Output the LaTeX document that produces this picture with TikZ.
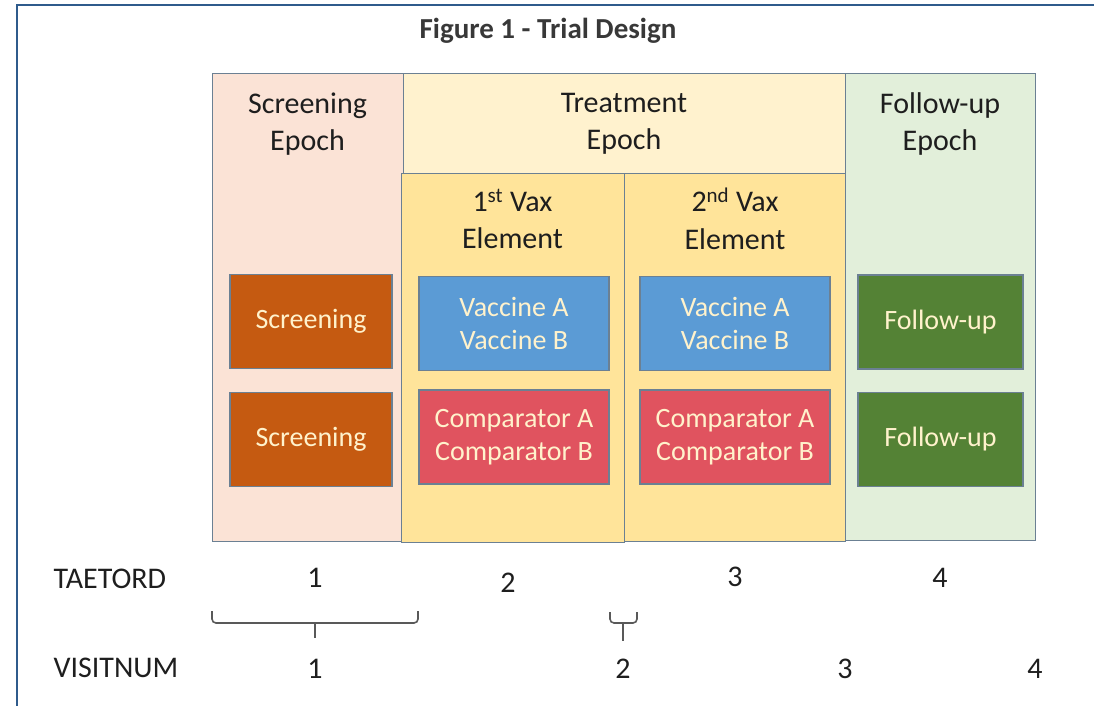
\documentclass[tikz,border=0pt]{standalone}
\usepackage{fontspec}
\setmainfont{Carlito}
\usetikzlibrary{positioning}

\definecolor{frameblue}{HTML}{2F5B8C}
\definecolor{edge}{HTML}{6B8093}
\definecolor{scrbg}{HTML}{FBE3D6}
\definecolor{trtbg}{HTML}{FFF2CE}
\definecolor{vaxbg}{HTML}{FFE49A}
\definecolor{fupbg}{HTML}{E2EFDA}
\definecolor{scrfill}{HTML}{C55A11}
\definecolor{vacfill}{HTML}{5B9BD5}
\definecolor{cmpfill}{HTML}{E0535F}
\definecolor{fupfill}{HTML}{548235}
\definecolor{armtext}{HTML}{FFF2CC}
\definecolor{inktext}{HTML}{1E1E1E}

\tikzset{
  epoch/.style={draw=edge, line width=1.3pt, anchor=north west, inner sep=0pt},
  head/.style={align=center, text=inktext, font=\fontsize{30}{37.5}\selectfont},
  arm/.style={draw=edge, line width=1.3pt, minimum width=190pt, minimum height=94pt,
    align=center, text=armtext, font=\fontsize{28}{33.5}\selectfont},
  num/.style={text=inktext, font=\fontsize{30}{36}\selectfont},
  brace/.style={draw=black!65, line width=1.6pt, rounded corners=4pt},
}

\begin{document}
\begin{tikzpicture}[x=1pt, y=1pt]
  \useasboundingbox (0,0) rectangle (1094,-706);
  \draw[frameblue, line width=2.6pt] (17,-706) -- (17,-5) -- (1094,-5);

  \node[font=\fontsize{29}{34}\selectfont\bfseries, text=black!78] (title) at (548,-31) {Figure 1 - Trial Design};

  % epochs and elements
  \node[epoch, fill=scrbg, minimum width=191pt, minimum height=468pt] (scr) at (212,-73) {};
  \node[epoch, fill=trtbg, minimum width=442pt, minimum height=100pt] (trt) at (403,-73) {};
  \node[epoch, fill=fupbg, minimum width=190pt, minimum height=467pt] (fup) at (845,-73) {};
  \node[epoch, fill=vaxbg, minimum width=223pt, minimum height=369pt] (vax1) at (401,-173) {};
  \node[epoch, fill=vaxbg, minimum width=221pt, minimum height=368pt] (vax2) at (624,-173) {};

  \node[head] (scrhead) at (307.5,-124) {Screening\\Epoch};
  \node[head] (trthead) at (624,-124) {Treatment\\Epoch};
  \node[head] (fuphead) at (940,-124) {Follow-up\\Epoch};
  \node[head] (vax1head) at (512.5,-219) {1\textsuperscript{st} Vax\\Element};
  \node[head] (vax2head) at (735,-219) {2\textsuperscript{nd} Vax\\Element};

  % arms
  \node[arm, fill=scrfill, minimum width=162pt] (scr1) at (311,-321.5) {Screening};
  \node[arm, fill=scrfill, minimum width=162pt] (scr2) at (311,-439.5) {Screening};
  \node[arm, fill=vacfill] (vac1) at (514,-323.5) {Vaccine A\\Vaccine B};
  \node[arm, fill=cmpfill] (cmp1) at (514,-437) {Comparator A\\Comparator B};
  \node[arm, fill=vacfill] (vac2) at (735,-323.5) {Vaccine A\\Vaccine B};
  \node[arm, fill=cmpfill] (cmp2) at (735,-437) {Comparator A\\Comparator B};
  \node[arm, fill=fupfill, minimum width=165pt] (fup1) at (940.5,-322) {Follow-up};
  \node[arm, fill=fupfill, minimum width=165pt] (fup2) at (940.5,-439.5) {Follow-up};

  % TAETORD row
  \node[num, anchor=west] (taetord) at (50,-579) {TAETORD};
  \node[num] (t1) at (315,-578) {1};
  \node[num] (t2) at (508,-583) {2};
  \node[num] (t3) at (735,-577) {3};
  \node[num] (t4) at (940,-578) {4};

  % VISITNUM row
  \node[num, anchor=west] (visitnum) at (50,-668) {VISITNUM};
  \node[num] (v1) at (315,-669) {1};
  \node[num] (v2) at (623,-669) {2};
  \node[num] (v3) at (845,-669) {3};
  \node[num] (v4) at (1035,-669) {4};

  \draw[brace] (212,-611) -- (212,-623) -- (418,-623) -- (418,-611);
  \draw[brace] (315,-623) -- (315,-638);
  \draw[brace] (610,-612) -- (610,-623) -- (637,-623) -- (637,-612);
  \draw[brace] (623,-623) -- (623,-641);
\end{tikzpicture}
\end{document}
